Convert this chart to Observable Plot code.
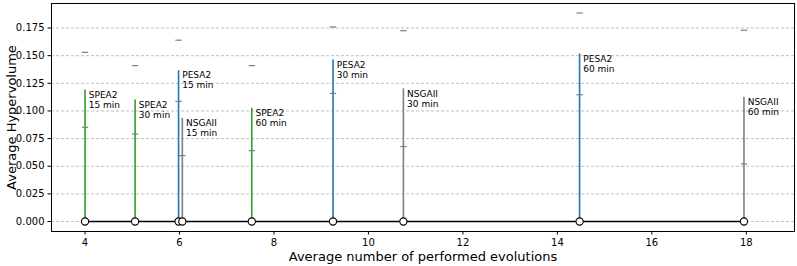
<!DOCTYPE html>
<html>
<head>
<meta charset="utf-8">
<script src="https://cdn.jsdelivr.net/npm/d3@7"></script>
<script src="https://cdn.jsdelivr.net/npm/@observablehq/plot@0.6"></script>
<style>
  html, body { margin: 0; padding: 0; background: #fff; }
  #chart svg { display: block; }
</style>
</head>
<body>
<div id="chart"></div>
<script>
const labels = ["SPEA2\n15 min", "SPEA2\n30 min", "PESA2\n15 min", "NSGAII\n15 min", "SPEA2\n60 min", "PESA2\n30 min", "NSGAII\n30 min", "PESA2\n60 min", "NSGAII\n60 min"];
const algorithms = ["SPEA2", "SPEA2", "PESA2", "NSGAII", "SPEA2", "PESA2", "NSGAII", "PESA2", "NSGAII"];
const evolutions = [4.0, 5.06, 5.98, 6.06, 7.53, 9.25, 10.74, 14.47, 17.95];
const tops = [0.119, 0.110, 0.1364, 0.0933, 0.1024, 0.146, 0.120, 0.1515, 0.1123];
const means = [0.0852, 0.0792, 0.1087, 0.0596, 0.0641, 0.1159, 0.0678, 0.1147, 0.0521];
const uppers = [0.153, 0.141, 0.164, null, 0.141, 0.176, 0.1726, 0.1886, 0.173];
const xTicks = [4, 6, 8, 10, 12, 14, 16, 18];
const yTicks = [0, 0.025, 0.05, 0.075, 0.1, 0.125, 0.15, 0.175];
const algoNames = ["SPEA2", "PESA2", "NSGAII"];
const algoColors = ["#2ca02c", "#1f77b4", "#7f7f7f"];

const data = labels.map((label, i) => ({
  label, algo: algorithms[i], x: evolutions[i], top: tops[i], mean: means[i], upper: uppers[i]
}));

const hbar = {
  draw(context, size) {
    const r = Math.sqrt(size / Math.PI);
    context.moveTo(-r, 0);
    context.lineTo(r, 0);
  }
};

const chart = Plot.plot({
  width: 797,
  height: 266,
  marginLeft: 51,
  marginRight: 3,
  marginTop: 3,
  marginBottom: 35,
  style: { fontFamily: "DejaVu Sans", fontSize: "10px", overflow: "visible", background: "#fff" },
  x: { domain: [3.29, 19.02] },
  y: { domain: [-0.00903, 0.1972] },
  color: { domain: algoNames, range: algoColors },
  marks: [
    Plot.gridY(yTicks, { stroke: "#b0b0b0", strokeOpacity: 1, strokeDasharray: "3,2", strokeWidth: 0.8 }),
    Plot.axisX(xTicks, { tickSize: 3.5, tickPadding: 3.5, label: null, fontSize: 10, stroke: "#000" }),
    Plot.axisY(yTicks, { tickSize: 3.5, tickPadding: 3.5, label: null, fontSize: 10, tickFormat: d3.format(".3f") }),
    Plot.ruleX(data, { x: "x", y1: 0, y2: "top", stroke: "algo", strokeWidth: 1.6 }),
    Plot.dot(data, { x: "x", y: "mean", symbol: hbar, r: 3.2, stroke: "#7f7f7f", strokeWidth: 1.2 }),
    Plot.dot(data.filter(d => d.upper != null), { x: "x", y: "upper", symbol: hbar, r: 3.2, stroke: "#7f7f7f", strokeWidth: 1.2 }),
    Plot.line(data, { x: "x", y: 0, stroke: "#000", strokeWidth: 1.5 }),
    Plot.dot(data, { x: "x", y: 0, r: 3.6, fill: "#fff", stroke: "#000", strokeWidth: 1.1 }),
    Plot.text(data, { x: "x", y: "top", text: "label", textAnchor: "start", lineAnchor: "top", dx: 3.7, dy: 0.5, fontSize: 9, lineHeight: 1.12, fill: "#000" }),
    Plot.frame({ stroke: "#000", strokeWidth: 1 }),
    Plot.text(["Average number of performed evolutions"], { frameAnchor: "bottom", dy: 25, fontSize: 13, textAnchor: "middle", lineAnchor: "middle", fill: "#000" }),
    Plot.text(["Average Hypervolume"], { frameAnchor: "left", dx: -39.5, rotate: -90, fontSize: 13, textAnchor: "middle", lineAnchor: "middle", fill: "#000" })
  ]
});

document.getElementById("chart").appendChild(chart);
</script>
</body>
</html>
